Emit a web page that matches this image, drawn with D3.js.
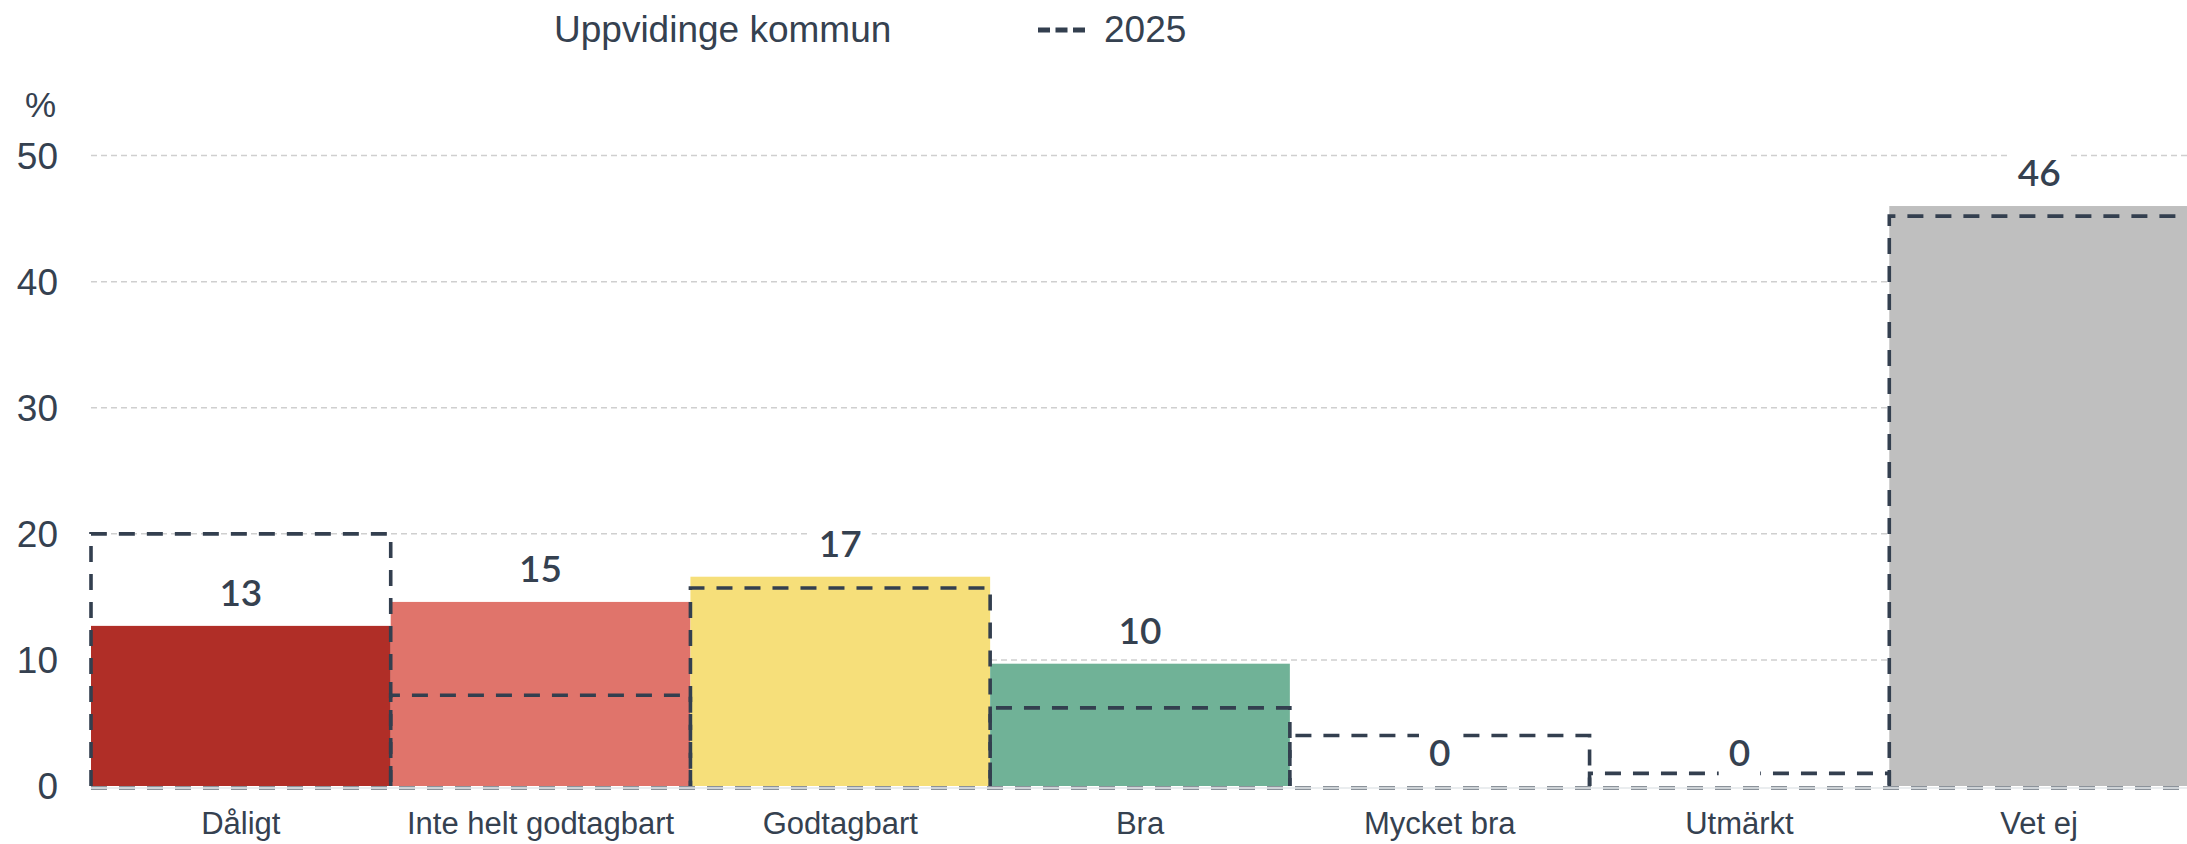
<!DOCTYPE html>
<meta charset="utf-8">
<title>Uppvidinge kommun</title>
<style>

body {
  margin: 0;
  background: #fff;
}

text {
  fill: #354150;
  font-family: "Liberation Sans", Arial, sans-serif;
}

.grid line {
  stroke: #cfcfcf;
  stroke-width: 1.5px;
  stroke-dasharray: 6,4;
}

.value {
  font-family: Lato, "Noto Sans", sans-serif;
  font-weight: 600;
  font-size: 37px;
}

</style>
<body>
<script src="https://cdn.jsdelivr.net/npm/d3@7"></script>
<script>

var categories = ["Dåligt", "Inte helt godtagbart", "Godtagbart", "Bra", "Mycket bra", "Utmärkt", "Vet ej"],
    barValues = [12.7, 14.6, 16.6, 9.7, 0, 0, 46.0],
    prevValues = [20.0, 7.2, 15.7, 6.2, 4.0, 1.0, 45.2],
    barColors = ["#b02e27", "#e0746b", "#f6df7a", "#70b297", "#70b297", "#70b297", "#bfbfbf"],
    yTicks = [0, 10, 20, 30, 40, 50];

var w = 2187,
    h = 844,
    dark = "#333f4f";

var svg = d3.select("body").append("svg")
    .attr("width", w)
    .attr("height", h);

var x = d3.scaleBand()
    .domain(categories)
    .range([91, 2189])
    .padding(0);

var y = d3.scaleLinear()
    .domain([0, 50])
    .range([786, 155.6]);

// gridlines
svg.append("g")
    .attr("class", "grid")
  .selectAll("line")
    .data(yTicks.filter(function(d) { return d > 0; }))
  .enter().append("line")
    .attr("x1", 91)
    .attr("x2", w)
    .attr("y1", function(d) { return y(d); })
    .attr("y2", function(d) { return y(d); });

// y tick labels
svg.append("g")
  .selectAll("text")
    .data(yTicks)
  .enter().append("text")
    .attr("x", 58)
    .attr("y", function(d) { return y(d); })
    .attr("dy", "0.36em")
    .attr("text-anchor", "end")
    .style("font-size", "37px")
    .text(function(d) { return d; });

svg.append("text")
    .attr("x", 25)
    .attr("y", 117)
    .style("font-size", "35px")
    .text("%");

// bars
svg.append("g")
  .selectAll("rect")
    .data(categories)
  .enter().append("rect")
    .attr("x", function(d) { return x(d); })
    .attr("width", x.bandwidth())
    .attr("y", function(d, i) { return y(barValues[i]); })
    .attr("height", function(d, i) { return y(0) - y(barValues[i]); })
    .style("fill", function(d, i) { return barColors[i]; });

// baseline
svg.append("line")
    .attr("x1", 91).attr("x2", w)
    .attr("y1", y(0) + 2).attr("y2", y(0) + 2)
    .style("stroke", "#8b929a")
    .style("stroke-width", 4)
    .style("stroke-dasharray", "16,12");

svg.append("line")
    .attr("x1", 91).attr("x2", w)
    .attr("y1", y(0) + 2).attr("y2", y(0) + 2)
    .style("stroke", "#e3e7ea")
    .style("stroke-width", 1.5);

// 2025 outlines
svg.append("g")
  .selectAll("path")
    .data(categories)
  .enter().append("path")
    .attr("d", function(d, i) {
      var x0 = x(d), x1 = x(d) + x.bandwidth(), yt = y(prevValues[i]), yb = y(0);
      return "M" + x0 + "," + yb + "V" + yt + "H" + x1 + "V" + yb;
    })
    .style("fill", "none")
    .style("stroke", dark)
    .style("stroke-width", 3.6)
    .style("stroke-dasharray", "16,12");

// value labels with white boxes
var labels = svg.append("g")
  .selectAll("g")
    .data(categories)
  .enter().append("g")
    .attr("transform", function(d, i) {
      return "translate(" + (x(d) + x.bandwidth() / 2) + "," + (y(barValues[i]) - 20) + ")";
    });

labels.append("text")
    .attr("class", "value")
    .attr("text-anchor", "middle")
    .text(function(d, i) { return d3.format(".0f")(barValues[i]); });

labels.insert("rect", "text")
    .each(function() {
      var b = this.parentNode.querySelector("text").getBBox();
      d3.select(this)
          .attr("x", b.x - 10)
          .attr("width", b.width + 20)
          .attr("y", -34)
          .attr("height", 45)
          .style("fill", "#fff");
    });

// category labels
svg.append("g")
  .selectAll("text")
    .data(categories)
  .enter().append("text")
    .attr("x", function(d) { return x(d) + x.bandwidth() / 2; })
    .attr("y", 834)
    .attr("text-anchor", "middle")
    .style("font-size", "31px")
    .text(function(d) { return d; });

// legend
svg.append("text")
    .attr("x", 554)
    .attr("y", 42)
    .style("font-size", "37px")
    .text("Uppvidinge kommun");

svg.append("line")
    .attr("x1", 1038).attr("x2", 1085)
    .attr("y1", 30).attr("y2", 30)
    .style("stroke", dark)
    .style("stroke-width", 5)
    .style("stroke-dasharray", "12,5.5");

svg.append("text")
    .attr("x", 1104)
    .attr("y", 42)
    .style("font-size", "37px")
    .text("2025");

</script>
